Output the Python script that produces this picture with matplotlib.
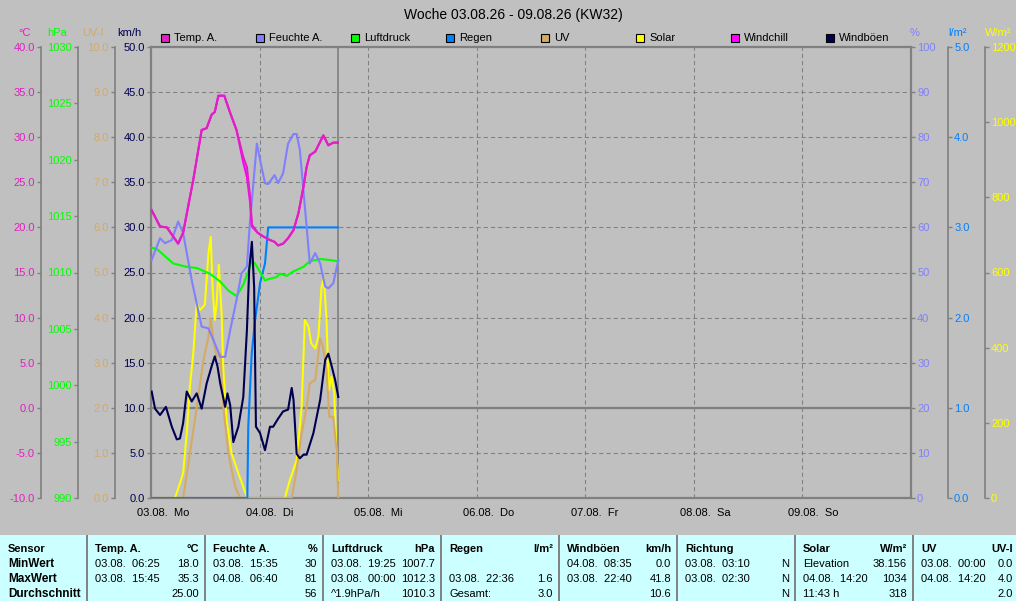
import matplotlib
matplotlib.use('Agg')
import matplotlib.pyplot as plt
import matplotlib.transforms as mtransforms
from matplotlib.patches import Rectangle
from matplotlib.lines import Line2D
from matplotlib.ticker import FormatStrFormatter, MultipleLocator
import numpy as np

# ---------------- data (hours since 03.08. 00:00) ----------------
temp_h = [0.15, 2.0, 3.5, 6.0, 7.1, 9.35, 11.2, 12.3, 13.4, 14.1, 14.9, 16.2, 17.5, 18.9,
          20.4, 21.2, 21.9, 22.3, 23.6, 24.8, 26.3, 27.3, 28.1, 29.2, 30.3, 31.5, 32.6,
          33.7, 34.4, 35.1, 36.3, 38.1, 39.2, 40.3, 41.3]
temp_v = [21.9, 20.1, 20.0, 18.2, 19.4, 25.3, 30.8, 31.0, 32.5, 32.8, 34.6, 34.6, 32.7, 30.8,
          27.8, 26.7, 23.4, 20.3, 19.4, 19.0, 18.6, 18.4, 18.0, 18.2, 18.8, 19.7, 21.6,
          24.5, 26.7, 28.0, 28.4, 30.2, 29.1, 29.4, 29.4]
windchill_v = [21.9, 20.1, 20.0, 18.2, 19.4, 25.3, 30.8, 31.0, 32.5, 32.8, 34.6, 34.6, 32.7, 30.8,
               27.2, 25.6, 22.8, 20.1, 19.4, 19.0, 18.6, 18.4, 18.0, 18.2, 18.8, 19.7, 21.6,
               24.5, 26.7, 28.0, 28.4, 30.2, 29.1, 29.4, 29.4]

hum_h = [0.15, 2.0, 3.1, 4.6, 6.0, 7.1, 9.0, 11.2, 12.7, 14.1, 15.3, 16.4, 17.5, 18.9, 20.0,
         21.2, 21.9, 22.3, 23.4, 24.1, 25.2, 25.9, 27.3, 28.1, 29.2, 30.3, 31.5, 32.2, 32.9,
         34.4, 35.1, 36.3, 37.4, 38.5, 39.2, 40.3, 41.4]
hum_v = [52.8, 57.6, 56.5, 57.2, 61.3, 58.8, 48.3, 38.0, 37.6, 34.3, 31.3, 31.3, 37.2, 43.9, 49.8,
         51.3, 61.6, 66.0, 78.6, 75.0, 69.8, 69.6, 71.6, 69.8, 72.0, 78.6, 80.7, 80.7, 77.2,
         60.2, 52.0, 54.3, 52.0, 46.9, 46.5, 47.6, 52.8]

pres_h = [0.15, 1.26, 4.9, 7.9, 10.1, 13.0, 15.3, 17.1, 18.9, 20.4, 22.3, 23.0, 25.2, 25.9,
          27.8, 28.5, 30.0, 31.5, 33.7, 35.1, 37.4, 39.6, 41.4]
pres_v = [1012.2, 1012.1, 1010.8, 1010.5, 1010.4, 1009.9, 1009.2, 1008.4, 1007.9, 1008.9,
          1011.0, 1010.8, 1009.3, 1009.4, 1009.6, 1009.9, 1009.7, 1010.1, 1010.5, 1011.0,
          1011.2, 1011.1, 1011.0]

rain_h = [0.0, 21.29, 21.5, 22.26, 23.0, 24.1, 25.2, 25.9, 41.3]
rain_v = [0.0, 0.0, 0.79, 1.6, 1.97, 2.38, 2.6, 3.0, 3.0]

gust_h = [0.15, 0.9, 2.0, 3.3, 4.6, 5.7, 6.4, 7.1, 7.9, 9.0, 10.1, 11.2, 12.3, 13.4, 14.1, 14.7,
          15.3, 16.4, 16.9, 17.5, 18.2, 19.3, 20.4, 21.2, 21.7, 22.3, 22.8, 23.2, 24.1, 25.2,
          26.3, 27.0, 28.1, 29.2, 30.3, 31.1, 31.5, 32.2, 32.9, 33.7, 34.4, 35.9, 37.4, 38.5,
          39.2, 39.9, 40.7, 41.4]
gust_v = [11.8, 9.9, 9.2, 10.1, 7.9, 6.5, 6.6, 8.3, 11.8, 10.7, 11.6, 9.9, 12.7, 14.6, 15.7, 14.6,
          12.7, 10.1, 11.6, 10.3, 6.2, 7.9, 11.2, 18.6, 25.3, 28.4, 23.4, 7.9, 7.2, 5.3,
          7.9, 7.9, 8.8, 9.6, 9.8, 12.2, 10.9, 4.9, 4.4, 4.8, 4.8, 7.2, 10.9, 15.3,
          16.0, 14.7, 13.1, 11.2]

solar_h = [0.0, 5.3, 6.4, 7.1, 7.9, 8.6, 9.35, 10.1, 10.8, 11.9, 12.7, 13.2, 13.6, 14.1, 14.5,
           15.0, 15.6, 16.0, 16.7, 17.8, 19.3, 21.2, 21.3, 29.6, 30.7, 32.2, 33.3, 34.0, 34.8,
           35.4, 36.3, 37.0, 37.7, 38.2, 38.8, 39.3, 39.9, 40.5, 41.0, 41.4]
solar_v = [0, 0, 39, 66, 172, 296, 385, 518, 500, 514, 651, 695, 562, 474, 518,
           620, 491, 341, 208, 119, 66, 3, 0, 0, 48, 101, 243, 474, 456,
           412, 398, 429, 562, 585, 474, 287, 323, 279, 119, 48]

uv_h = [0.0, 7.1, 8.6, 10.1, 11.6, 12.7, 13.2, 13.8, 14.5, 15.3, 16.0, 17.1, 18.6, 19.7, 31.1,
        32.2, 33.3, 34.4, 35.1, 36.3, 37.4, 38.0, 38.8, 39.4, 40.3, 41.0, 41.4]
uv_v = [0.0, 0.0, 0.99, 2.0, 3.06, 3.58, 3.98, 3.5, 3.13, 3.2, 2.02, 0.99, 0.25, 0.0, 0.0,
        0.62, 1.43, 2.02, 2.54, 2.62, 3.54, 3.35, 2.84, 1.8, 1.8, 1.06, 0.0]

now_h = 41.3
day_labels = ["03.08.  Mo", "04.08.  Di", "05.08.  Mi", "06.08.  Do", "07.08.  Fr", "08.08.  Sa", "09.08.  So"]
title = "Woche 03.08.26 - 09.08.26 (KW32)"

legend_names = ["Temp. A.", "Feuchte A.", "Luftdruck", "Regen", "UV", "Solar", "Windchill", "Windböen"]

C_TEMP = '#E020C0'
C_HUM = '#8080FF'
C_PRES = '#00FF00'
C_RAIN = '#0080FF'
C_UV = '#D4AA64'
C_SOLAR = '#FFFF00'
C_WCH = '#FF00FF'
C_GUST = '#000050'
legend_colors = [C_TEMP, C_HUM, C_PRES, C_RAIN, C_UV, C_SOLAR, C_WCH, C_GUST]

# table
tab_headers = ["Temp. A.", "Feuchte A.", "Luftdruck", "Regen", "Windböen", "Richtung", "Solar", "UV"]
tab_units = ["°C", "%", "hPa", "l/m²", "km/h", "", "W/m²", "UV-I"]
row_names = ["MinWert", "MaxWert", "Durchschnitt"]
min_when = ["03.08.  06:25", "03.08.  15:35", "03.08.  19:25", "", "04.08.  08:35", "03.08.  03:10", "Elevation", "03.08.  00:00"]
min_val = ["18.0", "30", "1007.7", "", "0.0", "N", "38.156", "0.0"]
max_when = ["03.08.  15:45", "04.08.  06:40", "03.08.  00:00", "03.08.  22:36", "03.08.  22:40", "03.08.  02:30", "04.08.  14:20", "04.08.  14:20"]
max_val = ["35.3", "81", "1012.3", "1.6", "41.8", "N", "1034", "4.0"]
avg_when = ["", "", "^1.9hPa/h", "Gesamt:", "", "", "11:43 h", ""]
avg_val = ["25.00", "56", "1010.3", "3.0", "10.6", "N", "318", "2.0"]

# ---------------- figure ----------------
W, H, DPI = 1016, 601, 100
plt.rcParams['font.family'] = ['Liberation Sans', 'DejaVu Sans']
plt.rcParams['font.size'] = 8
plt.rcParams['lines.scale_dashes'] = False

BG = '#C0C0C0'
GRAY = '#808080'
fig = plt.figure(figsize=(W / DPI, H / DPI), dpi=DPI, facecolor=BG)


def fx(px):
    return px / W


def fy(py):
    return 1 - py / H


L, R, T, B = 151, 911, 47, 498
ax = fig.add_axes([fx(L), fy(B), (R - L) / W, (B - T) / H])
ax.set_facecolor(BG)
ax.set_xlim(0, 168)
ax.set_ylim(0, 50)
ax.yaxis.set_major_locator(MultipleLocator(5))
ax.yaxis.set_major_formatter(FormatStrFormatter('%.1f'))
ax.set_xticks(np.arange(0, 169, 24))
ax.tick_params(axis='x', length=0, labelbottom=False)
ax.grid(True, color=GRAY, linestyle=(0, (3, 2.2)), linewidth=0.75)
for s in ax.spines.values():
    s.set_color(GRAY)
    s.set_linewidth(1.6)

TL = 2.9
PAD = 1.5


def style_axis(a, color, fmt, step, lo, hi):
    a.set_ylim(lo, hi)
    a.yaxis.set_major_locator(MultipleLocator(step))
    a.yaxis.set_major_formatter(FormatStrFormatter(fmt))
    a.tick_params(axis='y', colors=GRAY, labelcolor=color, length=TL, width=1, pad=PAD, labelsize=8)


ax.yaxis.tick_left()
style_axis(ax, C_GUST, '%.1f', 5, 0, 50)


def make_twin(side, pos, color, fmt, step, lo, hi):
    t = ax.twinx()
    for k, s in t.spines.items():
        s.set_visible(False)
    sp = t.spines[side]
    sp.set_visible(True)
    sp.set_position(('axes', pos))
    sp.set_color(GRAY)
    sp.set_linewidth(1.2)
    if side == 'left':
        t.yaxis.set_ticks_position('left')
        t.yaxis.set_label_position('left')
    else:
        t.yaxis.set_ticks_position('right')
    style_axis(t, color, fmt, step, lo, hi)
    return t


def frac(px):
    return (px - L) / (R - L)


ax_sol = make_twin('right', frac(985), C_SOLAR, '%d', 200, 0, 1200)
ax_uv = make_twin('left', frac(115), C_UV, '%.1f', 1, 0, 10)
ax_rain = make_twin('right', frac(948), C_RAIN, '%.1f', 1, 0, 5)
ax_pres = make_twin('left', frac(78), C_PRES, '%d', 5, 990, 1030)
ax_hum = make_twin('right', 1.0, C_HUM, '%d', 10, 0, 100)
ax_temp = make_twin('left', frac(41), C_TEMP, '%.1f', 5, -10, 40)
ax_gust = ax.twinx()
ax_gust.set_ylim(0, 50)
ax_gust.axis('off')

# zero °C line and "now" line (drawn under the series, on the main axes)
ax.add_line(Line2D([0, 1], [0, 0], color=GRAY, lw=1.6,
                   transform=mtransforms.blended_transform_factory(ax.transAxes, ax_temp.transData)))
ax.axvline(now_h, color=GRAY, lw=1.2)

LW = 1.5
ax_sol.plot(solar_h, solar_v, color=C_SOLAR, lw=LW)
ax_uv.plot(uv_h, uv_v, color=C_UV, lw=LW)
ax_rain.plot(rain_h, rain_v, color=C_RAIN, lw=LW)
ax_pres.plot(pres_h, pres_v, color=C_PRES, lw=LW)
ax_hum.plot(hum_h, hum_v, color=C_HUM, lw=LW)
ax_temp.plot(temp_h, windchill_v, color=C_WCH, lw=LW)
ax_temp.plot(temp_h, temp_v, color=C_TEMP, lw=LW)
ax_gust.plot(gust_h, gust_v, color=C_GUST, lw=LW)

for a in [ax, ax_sol, ax_uv, ax_rain, ax_pres, ax_hum, ax_temp, ax_gust]:
    a.set_xlim(0, 168)

# day labels
tr = mtransforms.offset_copy(mtransforms.blended_transform_factory(ax.transData, fig.transFigure),
                             fig=fig, x=-14, y=0, units='dots')
for i, lab in enumerate(day_labels):
    fig.text(i * 24, fy(513), lab, transform=tr, ha='left', va='center', fontsize=8, color='black')

# title
fig.text(fx(513.5), fy(15), title, ha='center', va='center', fontsize=10, color='black')

# unit labels
units_top = [("°C", 25, C_TEMP), ("hPa", 57.5, C_PRES), ("UV-I", 93, C_UV), ("km/h", 129.5, C_GUST),
             ("%", 915, C_HUM), ("l/m²", 957.5, C_RAIN), ("W/m²", 998.5, C_SOLAR)]
for txt, xp, c in units_top:
    fig.text(fx(xp), fy(33), txt, ha='center', va='center', fontsize=8, color=c)

# legend
for i, (name, c) in enumerate(zip(legend_names, legend_colors)):
    x0 = 161 + i * 95
    fig.patches.append(Rectangle((fx(x0), fy(42)), 8 / W, 8 / H, transform=fig.transFigure,
                                 facecolor=c, edgecolor='black', lw=0.8))
    fig.text(fx(x0 + 13), fy(38), name, ha='left', va='center', fontsize=8, color='black')

# table
fig.patches.append(Rectangle((0, 0), 1, (H - 535) / H, transform=fig.transFigure,
                             facecolor='#CCFFFF', edgecolor='none'))
col_x = [87, 205, 323, 441, 559, 677, 795, 913]
for xc in col_x:
    fig.lines.append(Line2D([fx(xc), fx(xc)], [fy(536), 0], transform=fig.transFigure,
                            color=GRAY, lw=1.4))
rows_y = [549, 564, 579, 594]
fig.text(fx(8), fy(rows_y[0]), "Sensor", ha='left', va='center', fontsize=8, fontweight='bold')
for j, rn in enumerate(row_names):
    fig.text(fx(8), fy(rows_y[j + 1]), rn, ha='left', va='center', fontsize=8.5, fontweight='bold')
for i, xc in enumerate(col_x):
    xl = xc + 8
    xr = (col_x[i + 1] - 6) if i + 1 < len(col_x) else 1013
    fig.text(fx(xl), fy(rows_y[0]), tab_headers[i], ha='left', va='center', fontsize=8, fontweight='bold')
    fig.text(fx(xr), fy(rows_y[0]), tab_units[i], ha='right', va='center', fontsize=8, fontweight='bold')
    for j, (wh, vl) in enumerate([(min_when, min_val), (max_when, max_val), (avg_when, avg_val)]):
        fig.text(fx(xl), fy(rows_y[j + 1]), wh[i], ha='left', va='center', fontsize=8)
        fig.text(fx(xr), fy(rows_y[j + 1]), vl[i], ha='right', va='center', fontsize=8)

fig.savefig('out.png', dpi=DPI, facecolor=BG)
